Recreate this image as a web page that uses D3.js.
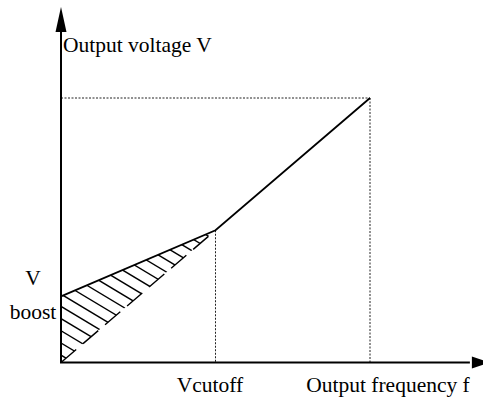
<!DOCTYPE html>
<html>
<head>
<meta charset="utf-8">
<script src="https://cdn.jsdelivr.net/npm/d3@7"></script>
<style>
  html, body { margin: 0; padding: 0; background: #fff; }
  svg { display: block; }
  text { font-family: "Liberation Serif", "Times New Roman", serif; font-size: 21.5px; fill: #000; }
</style>
</head>
<body>
<svg id="chart" width="483" height="398"></svg>
<script>
// V/f curve with torque boost: frequency (Hz) and output voltage (% of rated)
const curveFreq = [0, 25, 50];
const curveVolt = [25, 50, 100];
const boostVolt = 25;          // voltage at zero frequency
const cutoffFreq = 25;         // boost cutoff frequency
const cutoffVolt = 50;         // voltage at cutoff
const ratedFreq = 50;          // base frequency
const ratedVolt = 100;         // rated output voltage
const axisMaxFreq = 69.4;      // x-axis arrow tip
const axisMaxVolt = 134.4;     // y-axis arrow tip

const axisLabels = ["Output voltage V", "Output frequency f"];
const markLabels = ["Vcutoff", "V", "boost"];

const svg = d3.select("#chart");

const x = d3.scaleLinear().domain([0, ratedFreq]).range([61, 370]);
const y = d3.scaleLinear().domain([0, ratedVolt]).range([362.5, 98]);

// --- hatched boost region: triangle between origin, boost point and cutoff point
const tri = [[x(0), y(0)], [x(0), y(boostVolt)], [x(cutoffFreq), y(cutoffVolt)]];
svg.append("clipPath").attr("id", "boostClip")
  .append("path").attr("d", "M" + tri.map(p => p.join(",")).join("L") + "Z");

const hatchSlope = 0.6, hatchStep = 12.2;
const x0 = x(0), y0 = y(0);
const xc = x(cutoffFreq), yc = y(cutoffVolt);
const hatchG = svg.append("g");
const offsets = d3.range(y0 - hatchStep * 0.6, yc - hatchSlope * (xc - x0), -hatchStep);
hatchG.append("g").attr("clip-path", "url(#boostClip)")
  .selectAll("line").data(offsets).join("line")
  .attr("x1", x0 - 5).attr("y1", c => c - 5 * hatchSlope)
  .attr("x2", xc + 5).attr("y2", c => c + hatchSlope * (xc - x0 + 5))
  .attr("stroke", "#000").attr("stroke-width", 1.4);

// lower boundary of the hatched region, drawn in broken pieces
hatchG.append("line")
  .attr("x1", x0).attr("y1", y0).attr("x2", xc - 6).attr("y2", yc + 6 * (y0 - yc) / (xc - x0))
  .attr("stroke", "#000").attr("stroke-width", 1.4).attr("stroke-dasharray", "20,9");

// --- dotted guide lines
const guide = svg.append("g").attr("stroke", "#222").attr("stroke-width", 1)
  .attr("stroke-dasharray", "2,1.5").attr("fill", "none");
guide.append("line").attr("x1", x(0)).attr("y1", y(ratedVolt)).attr("x2", x(ratedFreq)).attr("y2", y(ratedVolt));
guide.append("line").attr("x1", x(ratedFreq)).attr("y1", y(ratedVolt)).attr("x2", x(ratedFreq)).attr("y2", y(0));
guide.append("line").attr("x1", x(cutoffFreq)).attr("y1", y(cutoffVolt)).attr("x2", x(cutoffFreq)).attr("y2", y(0));

// --- V/f curve
svg.append("path")
  .datum(curveFreq.map((f, i) => [f, curveVolt[i]]))
  .attr("d", d3.line().x(d => x(d[0])).y(d => y(d[1])))
  .attr("fill", "none").attr("stroke", "#000").attr("stroke-width", 1.8);

// --- axes with arrowheads
const axisG = svg.append("g");
axisG.append("line").attr("x1", x(0)).attr("y1", y(0)).attr("x2", x(0)).attr("y2", y(axisMaxVolt) + 20)
  .attr("stroke", "#000").attr("stroke-width", 2);
axisG.append("line").attr("x1", x(0) - 1).attr("y1", y(0)).attr("x2", x(axisMaxFreq) - 20).attr("y2", y(0))
  .attr("stroke", "#000").attr("stroke-width", 2);
const ty = y(axisMaxVolt), tx = x(axisMaxFreq);
axisG.append("path")
  .attr("d", `M${x(0)},${ty}L${x(0) - 5.5},${ty + 25}L${x(0) + 5.5},${ty + 25}Z`).attr("fill", "#000");
axisG.append("path")
  .attr("d", `M${tx},${y(0)}L${tx - 18},${y(0) - 6}L${tx - 18},${y(0) + 6}Z`).attr("fill", "#000");

// --- labels
svg.append("text").attr("x", 63).attr("y", 52).text(axisLabels[0]);
svg.append("text").attr("x", 388).attr("y", 392).attr("text-anchor", "middle").text(axisLabels[1]);
svg.append("text").attr("x", 210).attr("y", 392).attr("text-anchor", "middle").text(markLabels[0]);
svg.append("text").attr("x", 33).attr("y", 285).attr("text-anchor", "middle").text(markLabels[1]);
svg.append("text").attr("x", 33).attr("y", 319).attr("text-anchor", "middle").text(markLabels[2]);
</script>
</body>
</html>
